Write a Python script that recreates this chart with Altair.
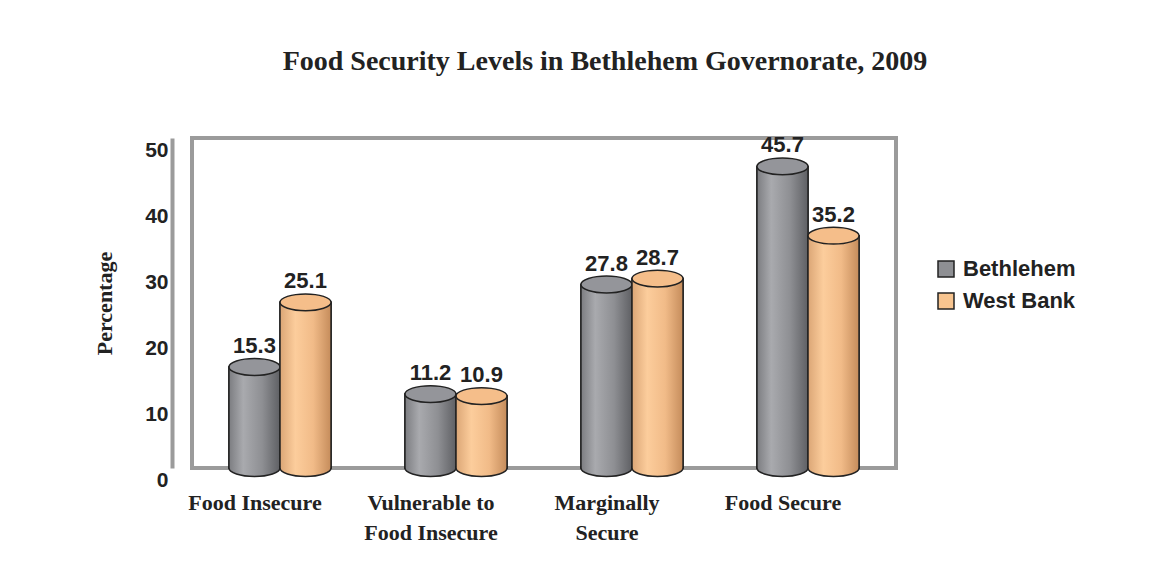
import altair as alt
import pandas as pd

categories = ["Food Insecure", "Vulnerable to|Food Insecure", "Marginally|Secure", "Food Secure"]
series_names = ["Bethlehem", "West Bank"]
bethlehem = [15.3, 11.2, 27.8, 45.7]
west_bank = [25.1, 10.9, 28.7, 35.2]
y_ticks = [0, 10, 20, 30, 40, 50]

rows = []
for c, b, w in zip(categories, bethlehem, west_bank):
    rows.append({"category": c, "series": "Bethlehem", "value": b})
    rows.append({"category": c, "series": "West Bank", "value": w})
df = pd.DataFrame(rows)

SERIF = "Liberation Serif"
SANS = "Liberation Sans"
INK = "#222222"
WALL = "#9b9b9b"

gray_grad = alt.Gradient(
    gradient="linear", x1=0, x2=1, y1=0, y2=0,
    stops=[alt.GradientStop(color="#7c7d81", offset=0),
           alt.GradientStop(color="#a9aaae", offset=0.28),
           alt.GradientStop(color="#8e8f93", offset=0.65),
           alt.GradientStop(color="#5f6064", offset=1)])
orange_grad = alt.Gradient(
    gradient="linear", x1=0, x2=1, y1=0, y2=0,
    stops=[alt.GradientStop(color="#dba676", offset=0),
           alt.GradientStop(color="#fccd9c", offset=0.3),
           alt.GradientStop(color="#f1bb88", offset=0.65),
           alt.GradientStop(color="#c58c5b", offset=1)])
top_fill = {"Bethlehem": "#94959a", "West Bank": "#f5be8a"}
grads = {"Bethlehem": gray_grad, "West Bank": orange_grad}

ELLIPSE = ("M -1 0 C -1 -0.182 -0.552 -0.33 0 -0.33 C 0.552 -0.33 1 -0.182 1 0 "
           "C 1 0.182 0.552 0.33 0 0.33 C -0.552 0.33 -1 0.182 -1 0 Z")
HALF = ("M -1 -0.08 L -1 0 C -1 0.182 -0.552 0.33 0 0.33 "
        "C 0.552 0.33 1 0.182 1 0 L 1 -0.08")

x_enc = alt.X("category:N", sort=categories,
              scale=alt.Scale(paddingInner=0.42, paddingOuter=0.21),
              axis=alt.Axis(title=None, domain=False, ticks=False,
                            labelAngle=0, labelFont=SERIF, labelFontSize=22,
                            labelFontWeight="bold", labelColor=INK,
                            labelOffset=-25, labelPadding=24,
                            labelLineHeight=30,
                            labelExpr="split(datum.label, '|')"))
xo_enc = alt.XOffset("series:N", scale=alt.Scale(domain=series_names, paddingInner=0, paddingOuter=0))
y_enc = alt.Y("value:Q", scale=alt.Scale(domain=[0, 50]),
              axis=alt.Axis(values=y_ticks, title="Percentage", grid=False,
                            ticks=False, tickSize=0, domain=True,
                            domainColor=WALL, domainWidth=4, offset=20,
                            labelFont=SANS, labelFontSize=21, labelFontWeight="bold",
                            labelColor=INK, labelOffset=12, labelPadding=4,
                            titleFont=SERIF, titleFontSize=22, titleFontWeight="bold",
                            titleColor=INK, titlePadding=28))

base = alt.Chart(df).encode(x=x_enc, xOffset=xo_enc, y=y_enc)

legend_layer = base.mark_bar(stroke=INK, strokeWidth=1.5).encode(
    color=alt.Color("series:N",
                    scale=alt.Scale(domain=series_names, range=["#8e8f93", "#f7c48f"]),
                    legend=alt.Legend(title=None, orient="none", legendX=743, legendY=120,
                                      symbolType="square", symbolSize=256,
                                      symbolStrokeColor=INK, symbolStrokeWidth=1.5,
                                      labelFont=SANS, labelFontSize=22,
                                      labelFontWeight="bold", labelColor=INK,
                                      rowPadding=10, labelOffset=6))
)

layers = [legend_layer]
for s in series_names:
    sub = base.transform_filter(alt.datum.series == s)
    layers.append(sub.mark_bar(fill=grads[s], stroke=INK, strokeWidth=1.5))
    layers.append(sub.mark_point(shape=HALF, size=2601, filled=True, opacity=1,
                                 fill=grads[s], stroke=INK, strokeWidth=1.5)
                  .encode(y=alt.datum(0)))
    layers.append(sub.mark_point(shape=ELLIPSE, size=2601, filled=True, opacity=1,
                                 fill=top_fill[s], stroke=INK, strokeWidth=1.5))

labels = base.mark_text(font=SANS, fontSize=22, fontWeight="bold", color=INK,
                        baseline="alphabetic", dy=-14).encode(
    text=alt.Text("value:Q", format=".1f"))
layers.append(labels)

chart = alt.layer(*layers).properties(
    width=704, height=330,
    title=alt.TitleParams("Food Security Levels in Bethlehem Governorate, 2009",
                          font=SERIF, fontSize=28, fontWeight="bold", color=INK,
                          anchor="middle", offset=58, dx=61),
    autosize=alt.AutoSizeParams(type="none"),
    padding={"left": 184, "top": 130, "right": 250, "bottom": 100},
    background="#ffffff",
).configure_view(stroke=WALL, strokeWidth=4)

chart.save("out.html", embed_options={"renderer": "svg", "actions": False})
